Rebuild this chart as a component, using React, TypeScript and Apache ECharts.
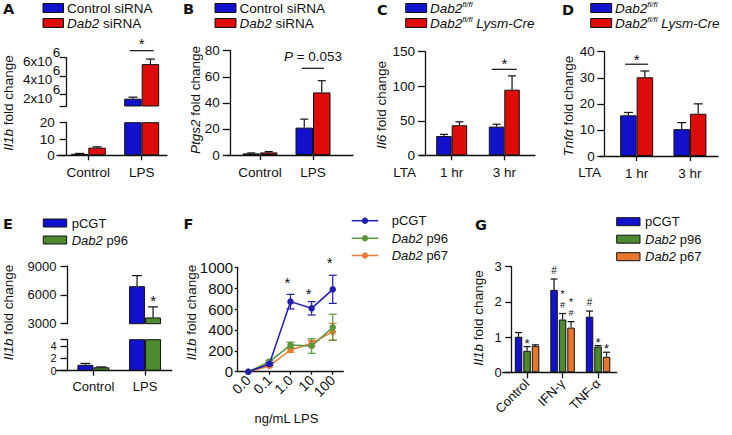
import React, { useEffect, useRef } from 'react';
import * as echarts from 'echarts';

const FONT = '"Liberation Sans", Arial, Helvetica, sans-serif';
const LETTER_FONT = '"DejaVu Sans", "Liberation Sans", Arial, sans-serif';
const INK = '#111111';
const BLUE = '#1212CC';
const RED = '#DE0B0B';
const GREEN = '#4D8A2F';
const ORANGE = '#E8772E';
const LBLUE = '#1E1EB0';
const LGREEN = '#5B983B';
const LORANGE = '#EA7C36';

// ---------------- data ----------------
// Panel A
const aCategories = ['Control', 'LPS'];
const aControlSiRNA = [0.9, 1.5e6];
const aControlSiRNAErr = [0.25, 0.17e6];
const aDab2SiRNA = [4.7, 5.3e6];
const aDab2SiRNAErr = [0.5, 0.55e6];
const aUpperTicks = [2e6, 4e6, 6e6];
const aLowerTicks = [0, 10, 20];

// Panel B
const bCategories = ['Control', 'LPS'];
const bControlSiRNA = [1.2, 21];
const bControlSiRNAErr = [0.4, 6.5];
const bDab2SiRNA = [2.0, 48];
const bDab2SiRNAErr = [0.6, 9];

// Panel C
const cCategories = ['1 hr', '3 hr'];
const cFlox = [28, 41.5];
const cFloxErr = [2.3, 3.5];
const cLysmCre = [43.5, 95];
const cLysmCreErr = [5, 20];

// Panel D
const dCategories = ['1 hr', '3 hr'];
const dFlox = [15.6, 10.3];
const dFloxErr = [1.1, 2.5];
const dLysmCre = [30.2, 16.2];
const dLysmCreErr = [2.4, 3.8];

// Panel E
const eCategories = ['Control', 'LPS'];
const ePCGT = [0.95, 6900];
const ePCGTErr = [0.22, 1100];
const eP96 = [0.55, 3650];
const eP96Err = [0.06, 1100];
const eLowerTicks = [0, 2, 4];

// Panel F
const fDoses = ['0.0', '0.1', '1.0', '10', '100'];
const fPCGT = [0, 73, 671, 607, 789];
const fPCGTErr = [0, 12, 70, 64, 135];
const fP96 = [0, 96, 255, 246, 425];
const fP96Err = [0, 12, 28, 70, 125];
const fP67 = [0, 55, 208, 272, 383];
const fP67Err = [0, 10, 22, 28, 80];
const fStarDoseIndex = [2, 3, 4];
const fStarLevels = [888, 792, 1086];

// Panel G
const gCategories = ['Control', 'IFN-γ', 'TNF-α'];
const gPCGT = [1.01, 2.34, 1.58];
const gPCGTErr = [0.12, 0.31, 0.16];
const gP96 = [0.61, 1.5, 0.73];
const gP96Err = [0.12, 0.17, 0.03];
const gP67 = [0.75, 1.27, 0.44];
const gP67Err = [0.03, 0.17, 0.13];
const gMarks: [number, number, string][] = [
  [0, 1, '*'],
  [1, 0, '#'],
  [1, 1, '*#'],
  [1, 2, '*#'],
  [2, 0, '#'],
  [2, 1, '*'],
  [2, 2, '*'],
];

// ---------------- text measuring helpers ----------------
let measureCtx: CanvasRenderingContext2D | null = null;
function measure(t: string, size: number, italic: boolean) {
  if (!measureCtx) measureCtx = document.createElement('canvas').getContext('2d');
  if (!measureCtx) return t.length * size * 0.55;
  measureCtx.font = `${italic ? 'italic ' : ''}${size}px ${FONT}`;
  return measureCtx.measureText(t).width;
}
type Seg = { t: string; it?: boolean; sz?: number; sup?: boolean };
function runText(x: number, y: number, segs: Seg[], size: number, align: 'left' | 'center', rot = false) {
  const parts = segs.map((s) => {
    const sz = s.sz ?? size;
    const lead = s.t.length - s.t.replace(/^\s+/, '').length;
    const leadW = lead ? measure(' '.repeat(lead), sz, !!s.it) : 0;
    const body = s.t.trimStart();
    return { s, sz, leadW, body, w: leadW + measure(body, sz, !!s.it) };
  });
  const W = parts.reduce((a, p) => a + p.w, 0);
  let acc = align === 'center' ? -W / 2 : 0;
  const out: any[] = [];
  parts.forEach((p) => {
    const off = acc + p.leadW;
    const raise = p.s.sup ? 3.5 : 0;
    out.push({
      type: 'text',
      x: rot ? x - raise : x + off,
      y: rot ? y - off : y - raise,
      rotation: rot ? Math.PI / 2 : 0,
      style: {
        text: p.body, fill: INK, fontFamily: FONT, fontSize: p.sz,
        fontStyle: p.s.it ? 'italic' : 'normal', align: 'left', verticalAlign: 'middle',
      },
    });
    acc += p.w;
  });
  return out;
}

// ---------------- option builder ----------------
function buildOption() {
  const grid: any[] = [];
  const xAxis: any[] = [];
  const yAxis: any[] = [];
  const series: any[] = [];
  const LS = { color: INK, width: 1.3 };

  const addGrid = (left: number, top: number, width: number, height: number) => {
    grid.push({ left, top, width, height, containLabel: false, outerBoundsMode: 'none' });
    return grid.length - 1;
  };

  const xCat = (g: number, data: string[], o: any = {}) => {
    xAxis.push({
      type: 'category',
      gridIndex: g,
      data,
      show: o.show ?? true,
      boundaryGap: true,
      axisLine: { show: !!o.line, onZero: false, lineStyle: LS },
      axisTick: { show: true, alignWithLabel: true, length: o.tickLen ?? 5, lineStyle: LS },
      axisLabel: {
        show: true,
        interval: 0,
        hideOverlap: false,
        color: INK,
        fontFamily: FONT,
        fontSize: o.fontSize ?? 13.5,
        margin: o.margin ?? 10,
        rotate: o.rotate ?? 0,
      },
      splitLine: { show: false },
    });
    return xAxis.length - 1;
  };

  const yAx = (g: number, o: any) => {
    const tick: any = { show: o.tickShow ?? true, length: o.tickLen ?? 7, lineStyle: LS };
    if (o.tickValues) tick.customValues = o.tickValues;
    const label: any = {
      show: true,
      hideOverlap: false,
      showMinLabel: true,
      showMaxLabel: true,
      color: INK,
      fontFamily: FONT,
      fontSize: o.fontSize ?? 13.5,
      margin: o.margin ?? 10,
      formatter: o.formatter ?? ((v: number) => String(v)),
    };
    if (o.lineHeight) label.lineHeight = o.lineHeight;
    if (o.vAlign) label.verticalAlign = o.vAlign;
    if (o.labelValues) label.customValues = o.labelValues;
    yAxis.push({
      type: 'value',
      gridIndex: g,
      position: 'left',
      min: o.min,
      max: o.max,
      interval: o.interval,
      offset: o.offset ?? 0,
      axisLine: { show: o.lineShow ?? true, onZero: false, lineStyle: LS },
      axisTick: tick,
      axisLabel: label,
      splitLine: { show: false },
    });
    return yAxis.length - 1;
  };

  const baseline = (x1: number, x2: number, y: number) => {
    const g = addGrid(x1, y - 10, x2 - x1, 10);
    xAxis.push({
      type: 'value', gridIndex: g, min: 0, max: 1,
      axisLine: { show: true, onZero: false, lineStyle: LS },
      axisTick: { show: false }, axisLabel: { show: false }, splitLine: { show: false },
    });
    yAxis.push({ type: 'value', gridIndex: g, min: 0, max: 1, show: false });
  };

  const addBars = (xi: number, yi: number, list: { name: string; data: number[]; color: string }[], bw: number, gap: string) => {
    list.forEach((s) => {
      series.push({
        type: 'bar', name: s.name, xAxisIndex: xi, yAxisIndex: yi, data: s.data,
        barWidth: bw, barGap: gap, clip: true, silent: true, z: 2,
        itemStyle: { color: s.color, borderColor: INK, borderWidth: 1 },
      });
    });
  };

  const addErr = (xi: number, yi: number, means: number[], errs: number[], offsetPx: number, capHalf: number, color = INK, both = false, z = 5) => {
    series.push({
      type: 'custom', xAxisIndex: xi, yAxisIndex: yi, silent: true, z,
      data: means.map((m, i) => [i, m, errs[i]]),
      encode: { x: 0, y: 1 },
      renderItem: (params: any, api: any) => {
        const cs = params.coordSys;
        const c = api.value(0);
        const m = api.value(1);
        const e = api.value(2);
        if (!e) return;
        const p = api.coord([c, m]);
        if (p[1] < cs.y - 1 || p[1] > cs.y + cs.height + 1) return;
        const hi = api.coord([c, m + e])[1];
        const lo = both ? api.coord([c, m - e])[1] : p[1];
        const x = p[0] + offsetPx;
        const st = { stroke: color, lineWidth: 1.2 };
        const children: any[] = [
          { type: 'line', shape: { x1: x, y1: lo, x2: x, y2: hi }, style: st },
          { type: 'line', shape: { x1: x - capHalf, y1: hi, x2: x + capHalf, y2: hi }, style: st },
        ];
        if (both) children.push({ type: 'line', shape: { x1: x - capHalf, y1: lo, x2: x + capHalf, y2: lo }, style: st });
        return { type: 'group', children };
      },
    });
  };

  const textStyle = (text: string, size: number, extra: any = {}) => ({
    text, fill: INK, fontFamily: FONT, fontSize: size,
    align: 'center', verticalAlign: 'middle',
    ...extra,
  });

  const addSig = (xi: number, yi: number, items: { cat: number; y: number; segs: Seg[]; dy: number; size: number }[], halfW: number) => {
    series.push({
      type: 'custom', xAxisIndex: xi, yAxisIndex: yi, silent: true, z: 6, clip: false,
      data: items.map((it) => [it.cat, it.y]),
      encode: { x: 0, y: 1 },
      renderItem: (params: any, api: any) => {
        const it = items[params.dataIndex];
        const p = api.coord([api.value(0), api.value(1)]);
        return {
          type: 'group',
          children: [
            { type: 'line', shape: { x1: p[0] - halfW, y1: p[1], x2: p[0] + halfW, y2: p[1] }, style: { stroke: INK, lineWidth: 1.2 } },
            ...runText(p[0], p[1] - it.dy, it.segs, it.size, 'center'),
          ],
        };
      },
    });
  };

  const addMarks = (xi: number, yi: number, marks: [number, number, string][], tops: number[][], offsets: number[], cfg: any) => {
    series.push({
      type: 'custom', xAxisIndex: xi, yAxisIndex: yi, silent: true, z: 6, clip: false,
      data: marks.map(([c, p]) => [c, tops[p][c]]),
      encode: { x: 0, y: 1 },
      renderItem: (params: any, api: any) => {
        const [, pos, txt] = marks[params.dataIndex];
        const b = api.coord([api.value(0), api.value(1)]);
        const x = b[0] + offsets[pos];
        if (txt === '*#') {
          return {
            type: 'group',
            children: [
              { type: 'text', x, y: b[1] - cfg.stackHashDy, style: textStyle('#', cfg.stackHashSize) },
              { type: 'text', x, y: b[1] - cfg.stackStarDy, style: textStyle('*', cfg.stackStarSize) },
            ],
          };
        }
        if (txt === '#') return { type: 'text', x, y: b[1] - cfg.hashDy, style: textStyle('#', cfg.hashSize) };
        return { type: 'text', x, y: b[1] - cfg.starDy, style: textStyle('*', cfg.starSize) };
      },
    });
  };

  const addSum = (a: number[], b: number[]) => a.map((v, i) => v + b[i]);

  // ---------- Panel A ----------
  const gAu = addGrid(61.6, 57.7, 106.8, 48.3);
  const xAu = xCat(gAu, aCategories, { show: false });
  const yAu = yAx(gAu, {
    min: 0.7e6, max: 6e6, offset: -5.1, tickLen: 7, margin: 14.5,
    tickValues: [0.7e6, ...aUpperTicks], labelValues: aUpperTicks,
    lineHeight: 8, vAlign: 'top',
    formatter: (v: number) => `${Math.round(v / 1e6)}x10`,
  });
  // exponent of the upper A labels
  yAx(gAu, {
    min: 0.7e6, max: 6e6, offset: -5.1, margin: 6.5, lineShow: false, tickShow: false,
    labelValues: aUpperTicks, tickValues: aUpperTicks, lineHeight: 10, vAlign: 'bottom', fontSize: 13.5,
    formatter: () => '6',
  });
  const gAl = addGrid(61.6, 122.7, 106.8, 32.6);
  const xAl = xCat(gAl, aCategories, {});
  const yAl = yAx(gAl, { min: 0, max: 20, interval: 10, offset: -5.1, tickLen: 7, margin: 12, tickValues: aLowerTicks, labelValues: aLowerTicks });
  baseline(57, 167, 155.3);
  const aBw = 17.5;
  const aList = [
    { name: 'Control siRNA', data: aControlSiRNA, color: BLUE },
    { name: 'Dab2 siRNA', data: aDab2SiRNA, color: RED },
  ];
  [[xAu, yAu], [xAl, yAl]].forEach(([xi, yi]) => {
    addBars(xi, yi, aList, aBw, '0%');
    addErr(xi, yi, aControlSiRNA, aControlSiRNAErr, -aBw / 2, 4.5);
    addErr(xi, yi, aDab2SiRNA, aDab2SiRNAErr, aBw / 2, 4.5);
  });
  addSig(xAu, yAu, [{ cat: 1, y: 6.77e6, segs: [{ t: '*' }], dy: 7, size: 15 }], 12);

  // ---------- Panel B ----------
  const gB = addGrid(233.5, 50.7, 106, 104.3);
  const xB = xCat(gB, bCategories, {});
  const yB = yAx(gB, { min: 0, max: 80, interval: 20, offset: 2.8, tickLen: 8, margin: 11 });
  baseline(227, 353, 155);
  const bBw = 17.5;
  addBars(xB, yB, [
    { name: 'Control siRNA', data: bControlSiRNA, color: BLUE },
    { name: 'Dab2 siRNA', data: bDab2SiRNA, color: RED },
  ], bBw, '0%');
  addErr(xB, yB, bControlSiRNA, bControlSiRNAErr, -bBw / 2, 4);
  addErr(xB, yB, bDab2SiRNA, bDab2SiRNAErr, bBw / 2, 4);
  addSig(xB, yB, [{ cat: 1, y: 66.5, segs: [{ t: 'P', it: true }, { t: ' = 0.053' }], dy: 11.5, size: 13.5 }], 11);

  // ---------- Panel C ----------
  const gC = addGrid(425.4, 51.7, 105.2, 103.6);
  const xC = xCat(gC, cCategories, {});
  const yC = yAx(gC, { min: 0, max: 150, interval: 50, offset: 0.4, tickLen: 7, margin: 10 });
  baseline(420, 535, 155.3);
  const cBw = 15.5;
  addBars(xC, yC, [
    { name: 'Dab2 fl/fl', data: cFlox, color: BLUE },
    { name: 'Dab2 fl/fl Lysm-Cre', data: cLysmCre, color: RED },
  ], cBw, '0%');
  addErr(xC, yC, cFlox, cFloxErr, -cBw / 2, 4);
  addErr(xC, yC, cLysmCre, cLysmCreErr, cBw / 2, 4);
  addSig(xC, yC, [{ cat: 1, y: 124.5, segs: [{ t: '*' }], dy: 5.5, size: 15 }], 12.5);

  // ---------- Panel D ----------
  const gD = addGrid(610, 51.7, 106.6, 104.3);
  const xD = xCat(gD, dCategories, {});
  const yD = yAx(gD, { min: 0, max: 40, interval: 10, offset: 5.7, tickLen: 7, margin: 9.5 });
  baseline(600, 718, 156);
  const dBw = 16.5;
  addBars(xD, yD, [
    { name: 'Dab2 fl/fl', data: dFlox, color: BLUE },
    { name: 'Dab2 fl/fl Lysm-Cre', data: dLysmCre, color: RED },
  ], dBw, '0%');
  addErr(xD, yD, dFlox, dFloxErr, -dBw / 2, 4.5);
  addErr(xD, yD, dLysmCre, dLysmCreErr, dBw / 2, 4.5);
  addSig(xD, yD, [{ cat: 0, y: 35.2, segs: [{ t: '*' }], dy: 4.5, size: 15 }], 11.5);

  // ---------- Panel E ----------
  const gEu = addGrid(67.5, 266, 103.4, 57.7);
  const xEu = xCat(gEu, eCategories, { show: false });
  const yEu = yAx(gEu, { min: 3000, max: 9000, interval: 3000, offset: 0, tickLen: 7, margin: 11, fontSize: 13 });
  const gEl = addGrid(67.5, 339.7, 103.4, 31);
  const xEl = xCat(gEl, eCategories, { fontSize: 13, margin: 9 });
  const yEl = yAx(gEl, {
    min: 0, max: 5, offset: 0, tickLen: 7, margin: 11, fontSize: 11, lineHeight: 10,
    tickValues: [...eLowerTicks, 5], labelValues: eLowerTicks.filter((_, i) => i % 2 === 0),
  });
  yAx(gEl, {
    min: 0, max: 5, offset: 0, margin: 11, fontSize: 11, lineHeight: 10, lineShow: false, tickShow: false,
    tickValues: eLowerTicks.filter((_, i) => i % 2 === 1), labelValues: eLowerTicks.filter((_, i) => i % 2 === 1),
  });
  baseline(56.7, 171.7, 370.7);
  const eBw = 16;
  const eList = [
    { name: 'pCGT', data: ePCGT, color: BLUE },
    { name: 'Dab2 p96', data: eP96, color: GREEN },
  ];
  [[xEu, yEu], [xEl, yEl]].forEach(([xi, yi]) => {
    addBars(xi, yi, eList, eBw, '0%');
    addErr(xi, yi, ePCGT, ePCGTErr, -eBw / 2, 5);
    addErr(xi, yi, eP96, eP96Err, eBw / 2, 5);
  });
  addMarks(xEu, yEu, [[1, 1, '*']], [addSum(ePCGT, ePCGTErr), addSum(eP96, eP96Err)], [-eBw / 2, eBw / 2],
    { hashDy: 8, starDy: 6, starSize: 15, hashSize: 11 });

  // ---------- Panel F ----------
  const gF = addGrid(237.7, 267.3, 105.6, 104.4);
  const xF = xCat(gF, fDoses, { line: true, rotate: 45, fontSize: 14, margin: 6, tickLen: 3 });
  const yF = yAx(gF, { min: 0, max: 1000, interval: 200, offset: 0, tickLen: 3, margin: 4.5, fontSize: 15 });
  const fList = [
    { name: 'Dab2 p67', data: fP67, err: fP67Err, color: LORANGE },
    { name: 'Dab2 p96', data: fP96, err: fP96Err, color: LGREEN },
    { name: 'pCGT', data: fPCGT, err: fPCGTErr, color: LBLUE },
  ];
  fList.forEach((s, k) => {
    addErr(xF, yF, s.data, s.err, 0, 4, s.color, true, 3 + k * 2);
    series.push({
      type: 'line', name: s.name, xAxisIndex: xF, yAxisIndex: yF, data: s.data,
      symbol: 'circle', symbolSize: 6.5, showSymbol: true, silent: true, z: 4 + k * 2,
      lineStyle: { color: s.color, width: 1.5 }, itemStyle: { color: s.color },
    });
  });
  series.push({
    type: 'custom', xAxisIndex: xF, yAxisIndex: yF, silent: true, z: 12, clip: false,
    data: fStarDoseIndex.map((d, i) => [d, fStarLevels[i]]),
    encode: { x: 0, y: 1 },
    renderItem: (params: any, api: any) => {
      const p = api.coord([api.value(0), api.value(1)]);
      return { type: 'text', x: p[0] - 3, y: p[1] + 4, style: textStyle('*', 15) };
    },
  });

  // ---------- Panel G ----------
  const gG = addGrid(509.3, 266.7, 106.5, 105.6);
  const xG = xCat(gG, gCategories, { rotate: 45, fontSize: 13, margin: 9, tickLen: 6 });
  const yG = yAx(gG, { min: 0, max: 3, interval: 1, offset: -2.4, tickLen: 6.5, margin: 10, fontSize: 13 });
  baseline(502.7, 616.7, 372.3);
  const gBw = 7.5;
  const gStep = 8.5;
  addBars(xG, yG, [
    { name: 'pCGT', data: gPCGT, color: BLUE },
    { name: 'Dab2 p96', data: gP96, color: GREEN },
    { name: 'Dab2 p67', data: gP67, color: ORANGE },
  ], gBw, `${((gStep - gBw) / gBw) * 100}%`);
  addErr(xG, yG, gPCGT, gPCGTErr, -gStep, 3.5);
  addErr(xG, yG, gP96, gP96Err, 0, 3.5);
  addErr(xG, yG, gP67, gP67Err, gStep, 3.5);
  addMarks(xG, yG, gMarks, [addSum(gPCGT, gPCGTErr), addSum(gP96, gP96Err), addSum(gP67, gP67Err)], [-gStep, 0, gStep],
    { hashDy: 8.5, starDy: 3.5, starSize: 13, hashSize: 10, stackHashDy: 8.5, stackHashSize: 9, stackStarDy: 19.5, stackStarSize: 10.5 });

  // ---------- decorations: letters, legends, titles (pixel layout, no data) ----------
  const letter = (x: number, y: number, t: string) => ({
    type: 'text', x, y,
    style: { text: t, fill: INK, fontFamily: LETTER_FONT, fontWeight: 'bold', fontSize: 14.5, align: 'left', verticalAlign: 'middle' },
  });
  const box = (x: number, y: number, w: number, h: number, color: string) => ({
    type: 'rect', shape: { x, y, width: w, height: h }, style: { fill: color, stroke: INK, lineWidth: 1 },
  });
  const lineLegend = (x1: number, x2: number, y: number, color: string) => [
    { type: 'line', shape: { x1, y1: y, x2, y2: y }, style: { stroke: color, lineWidth: 1.5 } },
    { type: 'circle', shape: { cx: (x1 + x2) / 2, cy: y, r: 3.2 }, style: { fill: color } },
  ];
  const L = (x: number, y: number, segs: Seg[], size = 13.5) => runText(x, y, segs, size, 'left');
  const V = (x: number, y: number, segs: Seg[]) => runText(x, y, segs, 13.5, 'center', true);
  const floxSegs: Seg[] = [{ t: 'Dab2', it: true }, { t: 'fl/fl', it: true, sz: 8, sup: true }];

  const decorations: any[] = [
    letter(3, 9, 'A'), letter(183, 9, 'B'), letter(377, 9.5, 'C'), letter(562, 9.5, 'D'),
    letter(3, 223.5, 'E'), letter(183.5, 223.5, 'F'), letter(475, 225, 'G'),
    // legend A
    box(43, 3.5, 20.5, 9, BLUE), ...L(67, 8, [{ t: 'Control siRNA' }]),
    box(43, 18.5, 20.5, 9, RED), ...L(67, 23, [{ t: 'Dab2', it: true }, { t: ' siRNA' }]),
    // legend B
    box(215, 3.5, 21, 9, BLUE), ...L(239.5, 8, [{ t: 'Control siRNA' }]),
    box(215, 18.5, 21, 9, RED), ...L(239.5, 23, [{ t: 'Dab2', it: true }, { t: ' siRNA' }]),
    // legend C
    box(405.7, 3.5, 21, 9, BLUE), ...L(430, 8, floxSegs),
    box(405.7, 18.5, 21, 9, RED), ...L(430, 23, [...floxSegs, { t: ' Lysm-Cre', it: true }]),
    // legend D
    box(590.7, 3.5, 21, 9, BLUE), ...L(615, 8, floxSegs),
    box(590.7, 18.5, 21, 9, RED), ...L(615, 23, [...floxSegs, { t: ' Lysm-Cre', it: true }]),
    // legend E
    box(43.3, 219, 23.4, 8, BLUE), ...L(71.7, 223, [{ t: 'pCGT' }], 13),
    box(43.3, 236, 23.4, 8, GREEN), ...L(71.7, 240, [{ t: 'Dab2', it: true }, { t: ' p96' }], 13),
    // legend F
    ...lineLegend(351.7, 378.3, 220.7, LBLUE), ...L(391.7, 220.7, [{ t: 'pCGT' }], 13),
    ...lineLegend(351.7, 378.3, 238.3, LGREEN), ...L(391.7, 238.3, [{ t: 'Dab2', it: true }, { t: ' p96' }], 13),
    ...lineLegend(351.7, 378.3, 255.5, LORANGE), ...L(391.7, 255.5, [{ t: 'Dab2', it: true }, { t: ' p67' }], 13),
    // legend G
    box(616.7, 217.7, 23.3, 8, BLUE), ...L(645, 221.7, [{ t: 'pCGT' }], 13),
    box(616.7, 235.2, 23.3, 8, GREEN), ...L(645, 239.2, [{ t: 'Dab2', it: true }, { t: ' p96' }], 13),
    box(616.7, 252.7, 23.3, 8, ORANGE), ...L(645, 256.7, [{ t: 'Dab2', it: true }, { t: ' p67' }], 13),
    // y titles
    ...V(8.5, 103, [{ t: 'Il1b', it: true }, { t: ' fold change' }]),
    ...V(195, 100, [{ t: 'Ptgs2', it: true }, { t: ' fold change' }]),
    ...V(381.7, 105, [{ t: 'Il6', it: true }, { t: ' fold change' }]),
    ...V(568.3, 106, [{ t: 'Tnfα', it: true }, { t: ' fold change' }]),
    ...V(8.5, 312.5, [{ t: 'Il1b', it: true }, { t: ' fold change' }]),
    ...V(191.5, 312.5, [{ t: 'Il1b', it: true }, { t: ' fold change' }]),
    ...V(478.3, 318, [{ t: 'Il1b', it: true }, { t: ' fold change' }]),
    // other texts
    ...L(393.3, 172, [{ t: 'LTA' }]),
    ...L(578.3, 172, [{ t: 'LTA' }]),
    ...runText(286.7, 418.3, [{ t: 'ng/mL LPS' }], 13, 'center'),
  ];

  series.push({
    type: 'custom',
    coordinateSystem: 'none',
    silent: true,
    z: 50,
    clip: false,
    data: [[0]],
    renderItem: () => ({ type: 'group', children: decorations }),
  });

  return {
    animation: false,
    backgroundColor: '#ffffff',
    textStyle: { fontFamily: FONT },
    grid,
    xAxis,
    yAxis,
    series,
  };
}

export default function App() {
  const ref = useRef<HTMLDivElement>(null);
  useEffect(() => {
    if (!ref.current) return;
    const chart = echarts.init(ref.current, undefined, { renderer: 'svg' });
    chart.setOption(buildOption() as any);
    return () => chart.dispose();
  }, []);
  return (
    <div
      ref={ref}
      style={{ position: 'fixed', left: 0, top: 0, width: 732, height: 435, background: '#ffffff' }}
    />
  );
}
